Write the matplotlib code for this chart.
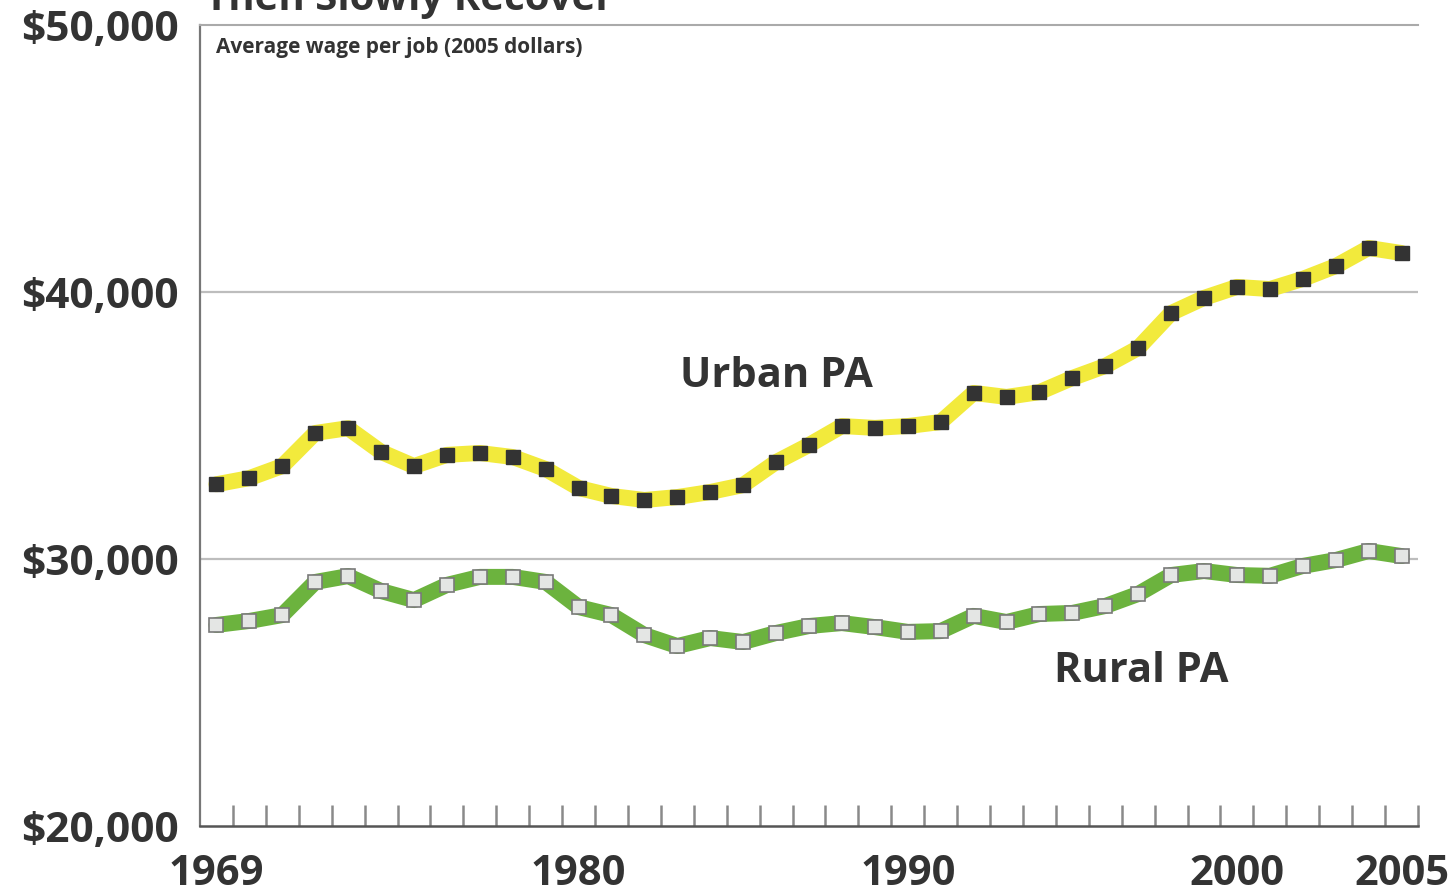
import matplotlib
matplotlib.use("Agg")
import matplotlib.pyplot as plt
import numpy as np

years = list(range(1969, 2006))

urban = [32800, 33030, 33480, 34720, 34900, 34010, 33480, 33900, 33970, 33820,
         33370, 32660, 32360, 32210, 32320, 32510, 32770, 33630, 34270, 34980,
         34910, 34980, 35130, 36220, 36070, 36250, 36780, 37230, 37900, 39210,
         39780, 40190, 40110, 40490, 40970, 41650, 41460]

rural = [27530, 27680, 27900, 29140, 29360, 28800, 28460, 29030, 29330, 29330,
         29140, 28200, 27900, 27150, 26740, 27040, 26890, 27230, 27490, 27600,
         27450, 27270, 27300, 27870, 27640, 27940, 27980, 28240, 28690, 29400,
         29550, 29400, 29370, 29740, 29960, 30300, 30110]

year_labels = [1969, 1980, 1990, 2000, 2005]
wage_ticks = [20000, 30000, 40000, 50000]

plt.rcParams['font.family'] = ['Open Sans', 'DejaVu Sans']
txt = '#333333'

fig = plt.figure(figsize=(14.56, 8.92), dpi=100)
ax = fig.add_axes([200/1456, 1 - 826/892, 1218/1456, 801/892])

# grid lines at 30k / 40k
for g in [30000, 40000]:
    ax.axhline(g, color='#bdbdbd', lw=1.6, zorder=1)

ax.plot(years, urban, color='#f2ea3c', lw=11.5, solid_joinstyle='round',
        solid_capstyle='round', zorder=3)
ax.plot(years, urban, ls='none', marker='s', ms=9.5, mfc='#333333',
        mec='#333333', zorder=4)

ax.plot(years, rural, color='#6cb33e', lw=11.5, solid_joinstyle='round',
        solid_capstyle='round', zorder=3)
ax.plot(years, rural, ls='none', marker='s', ms=9.5, mfc='#e4e6e4',
        mec='#7a7a7a', mew=1.2, zorder=4)

ax.set_xlim(1968.5, 2005.5)
ax.set_ylim(20000, 50000)

ax.set_xticks(year_labels)
ax.set_xticklabels([str(y) for y in year_labels], fontsize=30, fontweight='bold', color=txt)
ax.set_xticks(np.arange(1969.5, 2006, 1.0), minor=True)
ax.tick_params(axis='x', which='major', length=0, pad=20)
ax.tick_params(axis='x', which='minor', direction='in', length=15, width=1.8, color='#8a8a8a')

ax.set_yticks(wage_ticks)
ax.set_yticklabels(['${:,}'.format(v) for v in wage_ticks], fontsize=30.5,
                   fontweight='bold', color=txt)
ax.tick_params(axis='y', length=0, pad=15)

for s in ['right']:
    ax.spines[s].set_visible(False)
ax.spines['left'].set_color('#777777')
ax.spines['left'].set_linewidth(1.6)
ax.spines['top'].set_color('#aaaaaa')
ax.spines['top'].set_linewidth(1.5)
ax.spines['bottom'].set_color('#555555')
ax.spines['bottom'].set_linewidth(1.8)

ax.text(0.013, 0.985, 'Average wage per job (2005 dollars)', transform=ax.transAxes,
        fontsize=15, fontweight='bold', color=txt, va='top', ha='left')

ax.text(1986.0, 36850, 'Urban PA', fontsize=30, fontweight='bold', color=txt,
        ha='center', va='center')
ax.text(1997.1, 25780, 'Rural PA', fontsize=30, fontweight='bold', color=txt,
        ha='center', va='center')

fig.text(205/1456, 1 - 10/892, 'Then Slowly Recover', fontsize=29, fontweight='bold',
         color=txt, ha='left', va='baseline')

fig.savefig('out.png', dpi=100)
